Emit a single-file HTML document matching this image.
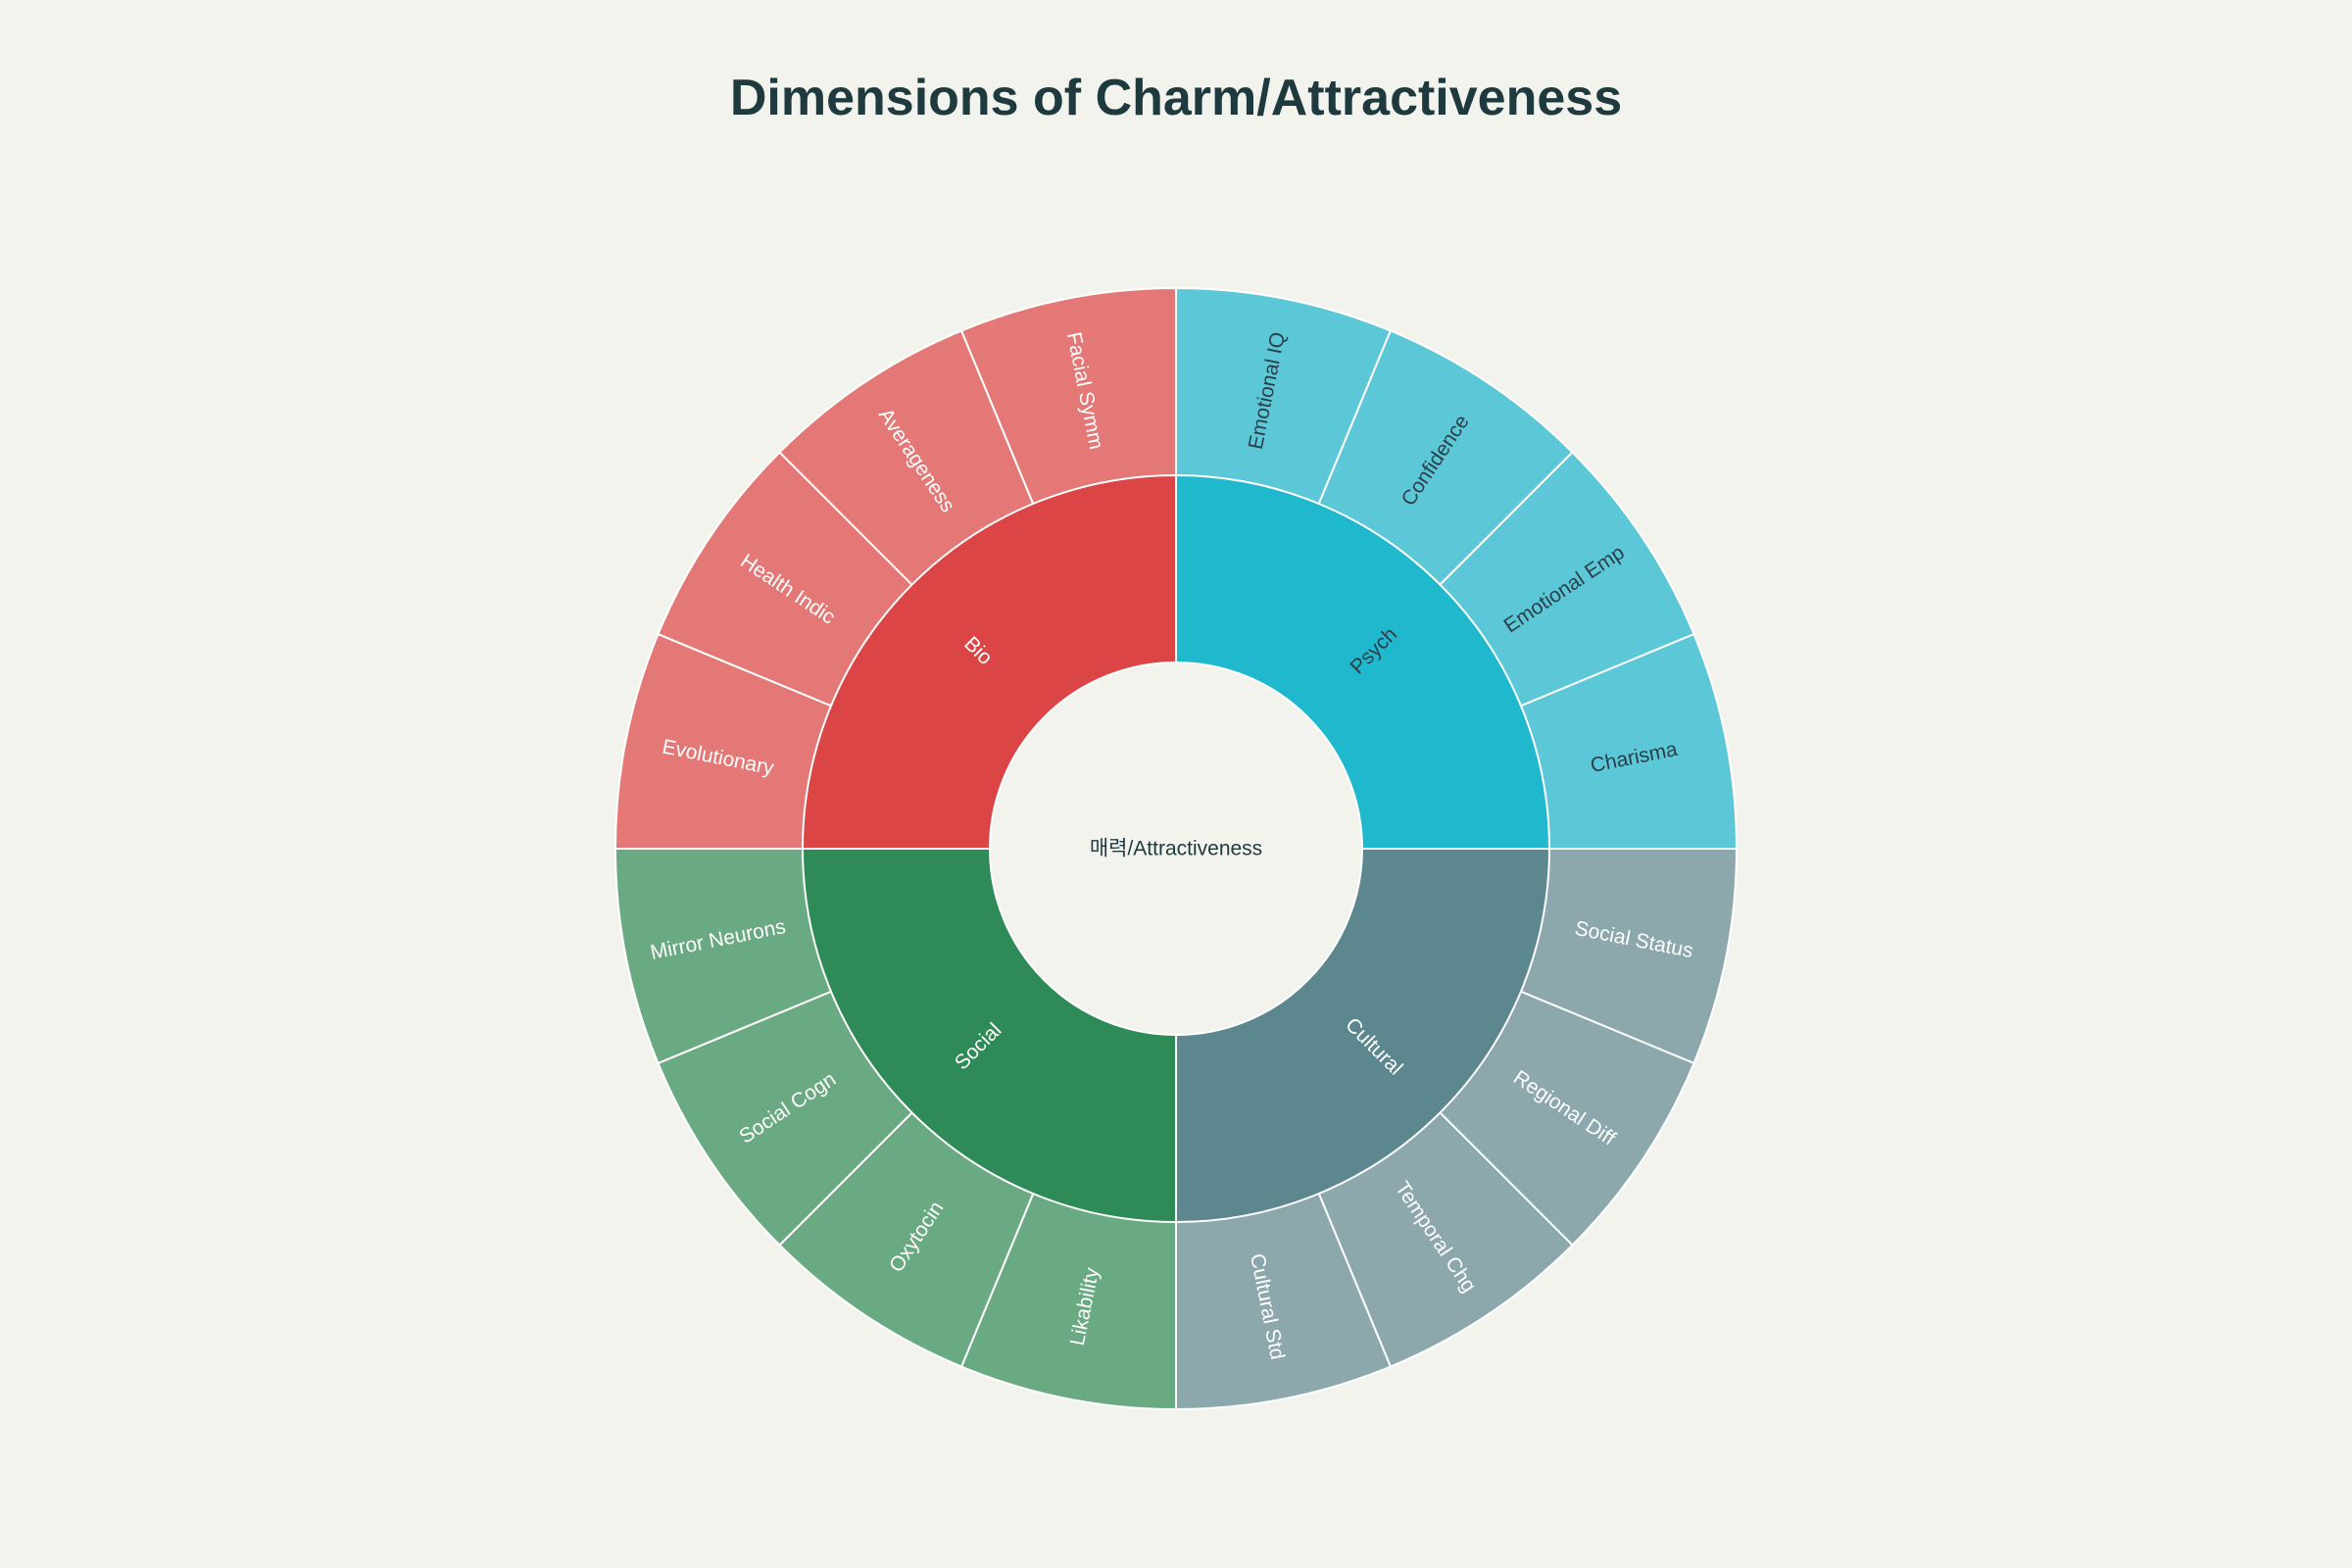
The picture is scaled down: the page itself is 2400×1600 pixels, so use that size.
<!DOCTYPE html>
<html><head><meta charset="utf-8"><style>
html,body{margin:0;padding:0;background:#F3F3EE;}
svg{display:block;}
text{font-family:"Liberation Sans","Noto Sans CJK KR",sans-serif;}
</style></head><body>
<svg width="2400" height="1600" viewBox="0 0 2400 1600" xmlns="http://www.w3.org/2000/svg">
<rect width="2400" height="1600" fill="#F3F3EE"/>
<text x="1200" y="100" text-anchor="middle" dominant-baseline="central" font-size="52" font-weight="bold" fill="#1E3A3E">Dimensions of Charm/Attractiveness</text>
<g stroke="#ffffff" stroke-width="2">
<!-- children -->
<path d="M1200 866 L1200 294 A572 572 0 0 1 1418.9 337.5 Z" fill="#5CC8D7"/>
<path d="M1200 866 L1418.9 337.5 A572 572 0 0 1 1604.5 461.5 Z" fill="#5CC8D7"/>
<path d="M1200 866 L1604.5 461.5 A572 572 0 0 1 1728.5 647.1 Z" fill="#5CC8D7"/>
<path d="M1200 866 L1728.5 647.1 A572 572 0 0 1 1772 866 Z" fill="#5CC8D7"/>
<path d="M1200 866 L1772 866 A572 572 0 0 1 1728.5 1084.9 Z" fill="#8CA8AC"/>
<path d="M1200 866 L1728.5 1084.9 A572 572 0 0 1 1604.5 1270.5 Z" fill="#8CA8AC"/>
<path d="M1200 866 L1604.5 1270.5 A572 572 0 0 1 1418.9 1394.5 Z" fill="#8CA8AC"/>
<path d="M1200 866 L1418.9 1394.5 A572 572 0 0 1 1200 1438 Z" fill="#8CA8AC"/>
<path d="M1200 866 L1200 1438 A572 572 0 0 1 981.1 1394.5 Z" fill="#6AAA83"/>
<path d="M1200 866 L981.1 1394.5 A572 572 0 0 1 795.5 1270.5 Z" fill="#6AAA83"/>
<path d="M1200 866 L795.5 1270.5 A572 572 0 0 1 671.5 1084.9 Z" fill="#6AAA83"/>
<path d="M1200 866 L671.5 1084.9 A572 572 0 0 1 628 866 Z" fill="#6AAA83"/>
<path d="M1200 866 L628 866 A572 572 0 0 1 671.5 647.1 Z" fill="#E37876"/>
<path d="M1200 866 L671.5 647.1 A572 572 0 0 1 795.5 461.5 Z" fill="#E37876"/>
<path d="M1200 866 L795.5 461.5 A572 572 0 0 1 981.1 337.5 Z" fill="#E37876"/>
<path d="M1200 866 L981.1 337.5 A572 572 0 0 1 1200 294 Z" fill="#E37876"/>
<!-- parents -->
<path d="M1200 866 L1200 485 A381 381 0 0 1 1581 866 Z" fill="#1FB8CD"/>
<path d="M1200 866 L1581 866 A381 381 0 0 1 1200 1247 Z" fill="#5D878F"/>
<path d="M1200 866 L1200 1247 A381 381 0 0 1 819 866 Z" fill="#2E8B57"/>
<path d="M1200 866 L819 866 A381 381 0 0 1 1200 485 Z" fill="#DB4545"/>
</g>
<circle cx="1200" cy="866" r="190" fill="#F3F3EE" stroke="#ffffff" stroke-width="2"/>
<g font-size="21" text-anchor="middle" dominant-baseline="central">
<text x="1200" y="866" fill="#1E3A3E">매력/Attractiveness</text>
<text transform="translate(1401.9 664.1) rotate(-45)" fill="#2A3F4A">Psych</text>
<text transform="translate(1401.9 1067.9) rotate(45)" fill="#fff">Cultural</text>
<text transform="translate(998.1 1067.9) rotate(-45)" fill="#fff">Social</text>
<text transform="translate(998.1 664.1) rotate(45)" fill="#fff">Bio</text>

<text transform="translate(1293 398.7) rotate(-78.75)" fill="#2A3F4A">Emotional IQ</text>
<text transform="translate(1464.7 469.8) rotate(-56.25)" fill="#2A3F4A">Confidence</text>
<text transform="translate(1596.2 601.3) rotate(-33.75)" fill="#2A3F4A">Emotional Emp</text>
<text transform="translate(1667.3 773) rotate(-11.25)" fill="#2A3F4A">Charisma</text>
<text transform="translate(1667.3 959) rotate(11.25)" fill="#fff">Social Status</text>
<text transform="translate(1596.2 1130.7) rotate(33.75)" fill="#fff">Regional Diff</text>
<text transform="translate(1464.7 1262.2) rotate(56.25)" fill="#fff">Temporal Chg</text>
<text transform="translate(1293 1333.3) rotate(78.75)" fill="#fff">Cultural Std</text>
<text transform="translate(1107 1333.3) rotate(-78.75)" fill="#fff">Likability</text>
<text transform="translate(935.3 1262.2) rotate(-56.25)" fill="#fff">Oxytocin</text>
<text transform="translate(803.8 1130.7) rotate(-33.75)" fill="#fff">Social Cogn</text>
<text transform="translate(732.7 959) rotate(-11.25)" fill="#fff">Mirror Neurons</text>
<text transform="translate(732.7 773) rotate(11.25)" fill="#fff">Evolutionary</text>
<text transform="translate(803.8 601.3) rotate(33.75)" fill="#fff">Health Indic</text>
<text transform="translate(935.3 469.8) rotate(56.25)" fill="#fff">Averageness</text>
<text transform="translate(1107 398.7) rotate(78.75)" fill="#fff">Facial Symm</text>
</g>
</svg>
</body></html>
